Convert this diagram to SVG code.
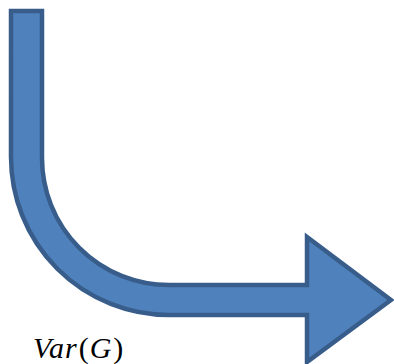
<svg xmlns="http://www.w3.org/2000/svg" width="394" height="364" viewBox="0 0 394 364">
<style>
.arrow{fill:#4F81BD;stroke:#385D8A;stroke-width:4.5;stroke-linejoin:miter}
.it{font-style:italic}
</style>
<g id="bent-arrow">
<path class="arrow" d="M11,11 L42,11 L42,158 A127,127 0 0 0 169,285 L307,285 L307,237 L391,300 L307,362 L307,315 L169,315 A158,158 0 0 1 11,157 Z"/>
</g>
<g id="label">
<text x="33" y="358" font-family="'Liberation Serif', 'Times New Roman', serif" font-size="30" fill="#000" letter-spacing="1"><tspan class="it">Var</tspan><tspan dx="1">(</tspan><tspan class="it">G</tspan><tspan dx="1">)</tspan></text>
</g>
<g id="connectors"></g>
</svg>
